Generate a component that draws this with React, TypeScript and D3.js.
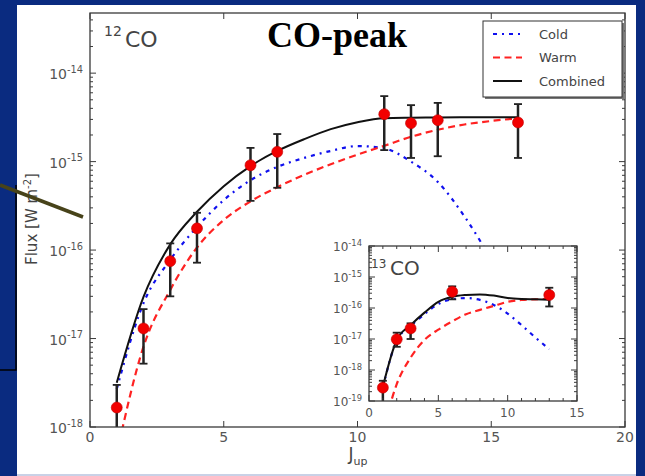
import * as d3 from 'd3'

// 12CO observations (J_up, flux in W m^-2, error bar low/high)
const J_OBS = [1, 2, 3, 4, 6, 7, 11, 12, 13, 16]
const FLUX_OBS = [1.66e-18, 1.30e-17, 7.5e-17, 1.76e-16, 9.1e-16, 1.29e-15, 3.44e-15, 2.72e-15, 2.94e-15, 2.77e-15]
const ERR_LO = [3.2e-19, 5.2e-18, 3.0e-17, 7.2e-17, 3.6e-16, 5.06e-16, 1.35e-15, 1.10e-15, 1.15e-15, 1.10e-15]
const ERR_HI = [2.99e-18, 2.15e-17, 1.19e-16, 2.64e-16, 1.43e-15, 2.05e-15, 5.5e-15, 4.35e-15, 4.61e-15, 4.47e-15]

// 12CO model ladders, J_up = 1..16
const J_MODEL = d3.range(1, 17)
const COLD = [2.69e-18, 2.51e-17, 7.76e-17, 1.82e-16, 3.67e-16, 6.17e-16, 8.71e-16, 1.10e-15, 1.32e-15, 1.50e-15, 1.41e-15, 1.00e-15, 5.9e-16, 2.4e-16, 7.9e-17, 2.5e-17]
const WARM = [5.0e-19, 8.1e-18, 3.55e-17, 1.07e-16, 2.19e-16, 3.55e-16, 5.13e-16, 7.08e-16, 9.33e-16, 1.20e-15, 1.51e-15, 1.91e-15, 2.29e-15, 2.63e-15, 2.88e-15, 3.09e-15]
const COMBINED = [3.16e-18, 2.95e-17, 1.16e-16, 2.71e-16, 5.28e-16, 8.91e-16, 1.32e-15, 1.79e-15, 2.33e-15, 2.79e-15, 3.10e-15, 3.14e-15, 3.16e-15, 3.18e-15, 3.18e-15, 3.18e-15]

// 13CO inset
const J_OBS13 = [1, 2, 3, 6, 13]
const FLUX_OBS13 = [2.7e-19, 9.8e-18, 2.2e-17, 3.36e-16, 2.63e-16]
const ERR_LO13 = [5e-20, 5.6e-18, 1.0e-17, 1.9e-16, 1.12e-16]
const ERR_HI13 = [4.5e-19, 1.6e-17, 3.2e-17, 5.0e-16, 4.5e-16]
const J_MODEL13 = d3.range(1, 14)
const COLD13 = [2.75e-19, 8.9e-18, 2.63e-17, 6.3e-17, 1.35e-16, 1.91e-16, 2.09e-16, 1.82e-16, 1.26e-16, 6.6e-17, 2.8e-17, 1.12e-17, 4.7e-18]
const WARM13 = [1e-20, 3.5e-19, 2.5e-18, 9.3e-18, 2.0e-17, 3.7e-17, 6.3e-17, 8.7e-17, 1.17e-16, 1.58e-16, 1.82e-16, 1.9e-16, 2.0e-16]
const COMBINED13 = [2.9e-19, 9.3e-18, 2.8e-17, 7.1e-17, 1.58e-16, 2.29e-16, 2.63e-16, 2.75e-16, 2.51e-16, 2.09e-16, 1.95e-16, 1.91e-16, 1.86e-16]

const X_TICKS = [0, 5, 10, 15, 20]
const Y_DECADES = [-18, -17, -16, -15, -14]
const X_TICKS13 = [0, 5, 10, 15]
const Y_DECADES13 = [-19, -18, -17, -16, -15, -14]

const LEGEND = ['Cold', 'Warm', 'Combined']

const FONT = "'DejaVu Sans', sans-serif"
const LABEL = '#555'
const SPINE = '#3a3a3a'

const STYLES: Record<string, { stroke: string; width: number; dash?: string }> = {
  Cold: { stroke: '#1010ee', width: 2.2, dash: '4,5,2,5' },
  Warm: { stroke: '#ff2222', width: 2.2, dash: '7,4.5' },
  Combined: { stroke: '#111', width: 2 },
}

function minorTicks(decades: number[]) {
  const out: number[] = []
  decades.forEach(d => {
    for (let k = 2; k <= 9; k++) out.push(k * Math.pow(10, d))
  })
  return out
}

function Pow({ x, y, exp, size }: { x: number; y: number; exp: number; size: number }) {
  return (
    <text x={x} y={y} textAnchor="end" fontSize={size} fill={LABEL} fontFamily={FONT}>
      <tspan>10</tspan>
      <tspan dy={-size * 0.48} fontSize={size * 0.7}>{String(exp)}</tspan>
    </text>
  )
}

function Panel({
  x, y, xTicks, xMinor, decades, xLabelY, yLabelX, fs, models, jModel, jObs, obs, lo, hi, clipId,
}: any) {
  const [x0, x1] = x.range()
  const [y0, y1] = y.range()
  const line = (vals: number[]) =>
    d3.line<number>().x((_, i) => x(jModel[i])).y(v => y(v)).curve(d3.curveMonotoneX)(vals) || ''
  const majors = decades.map((d: number) => Math.pow(10, d))
  const minors = minorTicks(decades).filter(v => v > y.domain()[0] && v < y.domain()[1])
  return (
    <g>
      <defs>
        <clipPath id={clipId}>
          <rect x={x0} y={y1} width={x1 - x0} height={y0 - y1} />
        </clipPath>
      </defs>
      <rect x={x0} y={y1} width={x1 - x0} height={y0 - y1} fill="#fff" />
      <g clipPath={`url(#${clipId})`}>
        {LEGEND.map((k, i) => (
          <path key={k} d={line(models[i])} fill="none" stroke={STYLES[k].stroke}
            strokeWidth={STYLES[k].width} strokeDasharray={STYLES[k].dash} />
        ))}
        {jObs.map((j: number, i: number) => (
          <g key={j} stroke="#222" strokeWidth={2.5}>
            <line x1={x(j)} x2={x(j)} y1={y(lo[i])} y2={y(hi[i])} />
            <line x1={x(j) - 4} x2={x(j) + 4} y1={y(hi[i])} y2={y(hi[i])} strokeWidth={1.8} />
            <line x1={x(j) - 4} x2={x(j) + 4} y1={y(lo[i])} y2={y(lo[i])} strokeWidth={1.8} />
          </g>
        ))}
      </g>
      {jObs.map((j: number, i: number) => (
        <circle key={j} cx={x(j)} cy={y(obs[i])} r={5.5} fill="#f20000" stroke="#c00000" strokeWidth={0.6} />
      ))}
      <rect x={x0} y={y1} width={x1 - x0} height={y0 - y1} fill="none" stroke={SPINE} strokeWidth={1.3} />
      <g stroke={SPINE} strokeWidth={1}>
        {xTicks.map((t: number) => (
          <g key={t}>
            <line x1={x(t)} x2={x(t)} y1={y0} y2={y0 - 6} />
            <line x1={x(t)} x2={x(t)} y1={y1} y2={y1 + 6} />
          </g>
        ))}
        {xMinor.map((t: number) => (
          <g key={'m' + t}>
            <line x1={x(t)} x2={x(t)} y1={y0} y2={y0 - 3} />
            <line x1={x(t)} x2={x(t)} y1={y1} y2={y1 + 3} />
          </g>
        ))}
        {majors.map((v: number) => (
          <g key={v}>
            <line x1={x0} x2={x0 + 6} y1={y(v)} y2={y(v)} />
            <line x1={x1} x2={x1 - 6} y1={y(v)} y2={y(v)} />
          </g>
        ))}
        {minors.map((v: number) => (
          <g key={'n' + v}>
            <line x1={x0} x2={x0 + 3} y1={y(v)} y2={y(v)} />
            <line x1={x1} x2={x1 - 3} y1={y(v)} y2={y(v)} />
          </g>
        ))}
      </g>
      {xTicks.map((t: number) => (
        <text key={t} x={x(t)} y={xLabelY} textAnchor="middle" fontSize={fs} fill={LABEL} fontFamily={FONT}>{t}</text>
      ))}
      {decades.map((d: number) => (
        <Pow key={d} x={yLabelX} y={y(Math.pow(10, d)) + fs * 0.45} exp={d} size={fs} />
      ))}
    </g>
  )
}

export default function App() {
  const x = d3.scaleLinear().domain([0, 20]).range([90, 625])
  const y = d3.scaleLog().domain([1e-18, Math.pow(10, -13.32)]).range([427, 13])
  const xi = d3.scaleLinear().domain([0, 15]).range([369, 577])
  const yi = d3.scaleLog().domain([1e-19, 1e-14]).range([401, 246])

  return (
    <svg width={645} height={476} style={{ position: 'absolute', left: 0, top: 0 }}>
      <rect width={645} height={476} fill="#0a2b80" />
      <rect x={17} y={5} width={619} height={469} fill="#fff" />
      <rect x={17} y={474} width={619} height={2} fill="#c9d1e6" />
      <path d="M16,185 V370 H0" fill="none" stroke="#000" strokeWidth={1.5} />

      <Panel x={x} y={y} xTicks={X_TICKS} xMinor={[]} decades={Y_DECADES} xLabelY={442} yLabelX={83} fs={14}
        models={[COLD, WARM, COMBINED]} jModel={J_MODEL} jObs={J_OBS} obs={FLUX_OBS} lo={ERR_LO} hi={ERR_HI}
        clipId="clipMain" />

      <text x={104} y={36} fontSize={14} fill="#444" fontFamily={FONT}>12</text>
      <text x={125} y={47} fontSize={22} fill="#444" fontFamily={FONT}>CO</text>
      <text x={337} y={47} textAnchor="middle" fontSize={36} fontWeight="bold" fontFamily="'Liberation Serif', 'Times New Roman', serif" fill="#000">CO-peak</text>

      <text transform="translate(37,219) rotate(-90)" textAnchor="middle" fontSize={15} fill="#444" fontFamily={FONT}>
        Flux [W m<tspan dy={-6} fontSize={10}>-2</tspan><tspan dy={6}>]</tspan>
      </text>
      <text x={358} y={460} textAnchor="middle" fontSize={17} fill="#444" fontFamily={FONT}>
        J<tspan dy={5} fontSize={11}>up</tspan>
      </text>

      <Panel x={xi} y={yi} xTicks={X_TICKS13} xMinor={d3.range(1, 15).filter(v => v % 5 !== 0)} decades={Y_DECADES13}
        xLabelY={417} yLabelX={362} fs={12}
        models={[COLD13, WARM13, COMBINED13]} jModel={J_MODEL13} jObs={J_OBS13} obs={FLUX_OBS13} lo={ERR_LO13} hi={ERR_HI13}
        clipId="clipInset" />
      <text x={371} y={268} fontSize={12} fill="#444" fontFamily={FONT}>13</text>
      <text x={390} y={275} fontSize={20} fill="#444" fontFamily={FONT}>CO</text>

      <g>
        <rect x={485} y={23} width={139} height={76} fill="#777" />
        <rect x={483} y={21} width={139} height={76} fill="#fff" stroke="#333" strokeWidth={1} />
        {LEGEND.map((k, i) => (
          <g key={k} transform={`translate(0,${34 + i * 23.5})`}>
            <line x1={493} x2={522} y1={0} y2={0} stroke={STYLES[k].stroke} strokeWidth={STYLES[k].width}
              strokeDasharray={STYLES[k].dash} />
            <text x={539} y={4.5} fontSize={13} fill="#444" fontFamily={FONT}>{k}</text>
          </g>
        ))}
      </g>

      <line x1={0} y1={185} x2={83} y2={217} stroke="#47431a" strokeWidth={3.5} />
    </svg>
  )
}
